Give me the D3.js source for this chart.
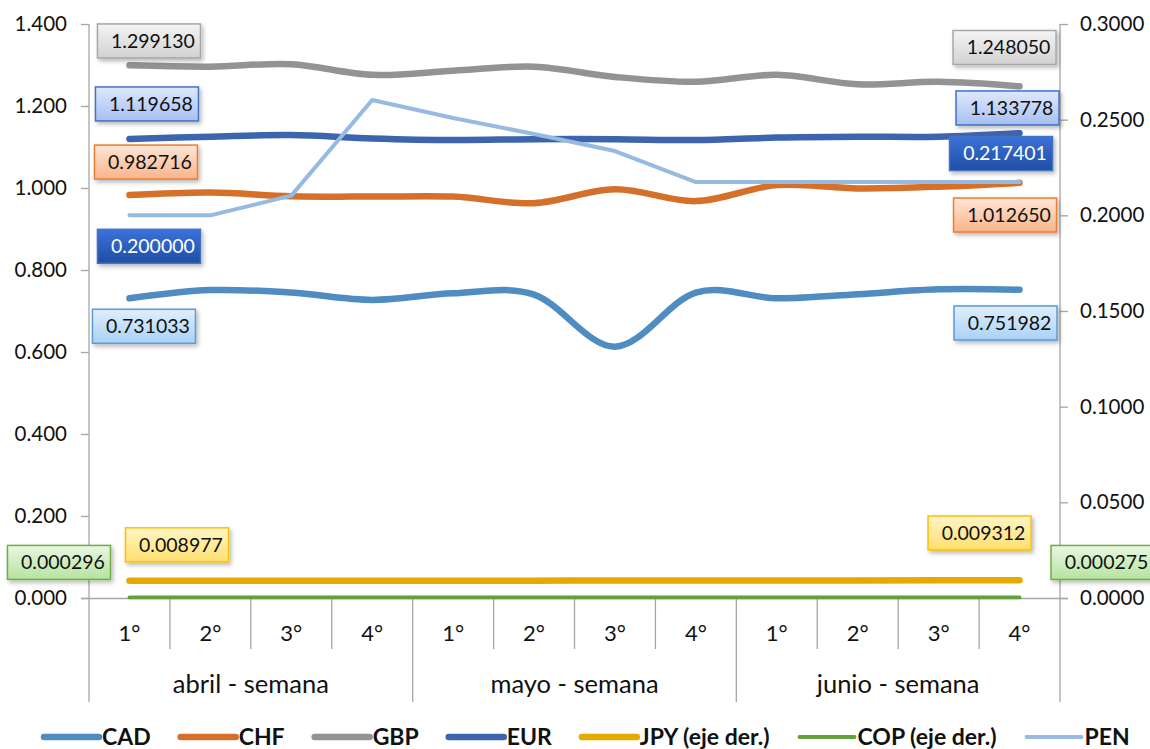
<!DOCTYPE html>
<html><head><meta charset="utf-8">
<script src="https://cdn.jsdelivr.net/npm/d3@7"></script>
<style>
html,body{margin:0;padding:0;background:#fff;}
svg{display:block;font-family:Lato, "Open Sans", sans-serif;}
</style></head>
<body>
<svg id="chart" width="1150" height="749"></svg>
<script>
// ---------- data ----------
const weeks = ["1°","2°","3°","4°","1°","2°","3°","4°","1°","2°","3°","4°"];
const months = ["abril - semana","mayo - semana","junio - semana"];
const leftTicks = [0,0.2,0.4,0.6,0.8,1.0,1.2,1.4];
const rightTicks = [0,0.05,0.1,0.15,0.2,0.25,0.3];

const CAD = [0.731033,0.751,0.745,0.727,0.743,0.740,0.613,0.745,0.731,0.741,0.753,0.751982];
const CHF = [0.982716,0.989,0.980,0.979,0.979,0.963,0.997,0.968,1.007,0.999,1.003,1.012650];
const GBP = [1.299130,1.296,1.302,1.276,1.286,1.296,1.271,1.259,1.276,1.253,1.259,1.248050];
const EUR = [1.119658,1.125,1.129,1.121,1.117,1.119,1.119,1.117,1.123,1.125,1.125,1.133778];
const JPY = [0.008977,0.00899,0.00901,0.00903,0.00906,0.00908,0.00911,0.00913,0.00917,0.00921,0.00926,0.009312];
const COP = [0.000296,0.000293,0.000291,0.000290,0.000288,0.000285,0.000287,0.000283,0.000280,0.000278,0.000277,0.000275];
const PEN = [0.200000,0.200000,0.2103,0.2603,0.2509,0.2425,0.2336,0.217401,0.217401,0.217401,0.217401,0.217401];

// ---------- style ----------
const series = [
  {name:"CAD", values:CAD, axis:"L", color:"#4e8cc2", w:6.5, smooth:true, legend:"CAD"},
  {name:"CHF", values:CHF, axis:"L", color:"#d5702b", w:6.5, smooth:true, legend:"CHF"},
  {name:"GBP", values:GBP, axis:"L", color:"#939393", w:6.5, smooth:true, legend:"GBP"},
  {name:"EUR", values:EUR, axis:"L", color:"#3c65ad", w:6.5, smooth:true, legend:"EUR"},
  {name:"JPY", values:JPY, axis:"R", color:"#e3aa00", w:6.5, smooth:true, legend:"JPY (eje der.)"},
  {name:"COP", values:COP, axis:"R", color:"#63a03e", w:3.8, smooth:true, legend:"COP (eje der.)"},
  {name:"PEN", values:PEN, axis:"R", color:"#97bae0", w:4, smooth:false, legend:"PEN"}
];
// label boxes: [series, index, dx, dy, top, bottom, stroke, textColor]
const labelStyle = [
  ["GBP",0, 19.5,-24.4,"#f4f4f4","#d2d2d2","#a8a8a8","#111"],
  ["EUR",0, 17.5,-35,"#dfe8fc","#a6bff2","#4472c4","#111"],
  ["CHF",0, 16.5,-33,"#fee6d6","#f9b48a","#ed7d31","#111"],
  ["PEN",0, 19.5,31,"#3b72da","#1f4ea3","#4472c4","#fff"],
  ["CAD",0, 14.5,28,"#e0effd","#a9d2f7","#5b9bd5","#111"],
  ["JPY",0, 47.5,-36,"#fff6c8","#ffdf6c","#ffc000","#111"],
  ["COP",0,-70.5,-35,"#eaf7e2","#b5e3a0","#70ad47","#111"],
  ["GBP",11,-15,-38.8,"#f4f4f4","#d2d2d2","#a8a8a8","#111"],
  ["EUR",11,-12,-25.2,"#dfe8fc","#a6bff2","#4472c4","#111"],
  ["PEN",11,-18.5,-28.5,"#3b72da","#1f4ea3","#4472c4","#fff"],
  ["CHF",11,-14.5,32.2,"#fee6d6","#f9b48a","#ed7d31","#111"],
  ["CAD",11,-14,33.3,"#e0effd","#a9d2f7","#5b9bd5","#111"],
  ["JPY",11,-40,-47.2,"#fff6c8","#ffdf6c","#ffc000","#111"],
  ["COP",11,83,-35,"#eaf7e2","#b5e3a0","#70ad47","#111"]
];

// ---------- layout ----------
const svg = d3.select("#chart");
const plotL = 89, plotR = 1060, plotT = 24, plotB = 598;
const axisColor = "#a6a6a6";

const x = d3.scaleBand().domain(d3.range(weeks.length)).range([plotL, plotR]).paddingInner(0).paddingOuter(0);
const cx = i => x(i) + x.bandwidth()/2;
const yL = d3.scaleLinear().domain([0,1.4]).range([plotB, plotT]);
const yR = d3.scaleLinear().domain([0,0.3]).range([plotB, plotT]);

const defs = svg.append("defs");
const shadow = defs.append("filter").attr("id","sh").attr("x","-20%").attr("y","-20%").attr("width","150%").attr("height","160%");
shadow.append("feDropShadow").attr("dx",2).attr("dy",2.5).attr("stdDeviation",2).attr("flood-color","#000").attr("flood-opacity",0.28);

// left axis
const gL = svg.append("g").attr("transform",`translate(${plotL},0)`)
  .call(d3.axisLeft(yL).tickValues(leftTicks).tickFormat(d3.format(".3f")).tickSize(8).tickSizeOuter(0));
gL.select(".domain").remove();
gL.selectAll(".tick line").attr("stroke",axisColor).attr("stroke-width",1.3);
gL.selectAll(".tick text").attr("x",-22).attr("font-size",20.5).attr("fill","#111").attr("font-family","Lato");

// right axis
const gR = svg.append("g").attr("transform",`translate(${plotR},0)`)
  .call(d3.axisRight(yR).tickValues(rightTicks).tickFormat(d3.format(".4f")).tickSize(8).tickSizeOuter(0));
gR.select(".domain").remove();
gR.selectAll(".tick line").attr("stroke",axisColor).attr("stroke-width",1.3);
gR.selectAll(".tick text").attr("x",20).attr("font-size",20.5).attr("fill","#111").attr("font-family","Lato");

// vertical axis lines (extend through category area)
svg.append("line").attr("x1",plotL).attr("x2",plotL).attr("y1",plotT).attr("y2",702).attr("stroke",axisColor).attr("stroke-width",1.3);
svg.append("line").attr("x1",plotR).attr("x2",plotR).attr("y1",plotT).attr("y2",702).attr("stroke",axisColor).attr("stroke-width",1.3);

// category axis
const gX = svg.append("g").attr("transform",`translate(0,${plotB})`)
  .call(d3.axisBottom(x).tickFormat(i=>weeks[i]).tickSize(0).tickSizeOuter(0));
gX.select(".domain").attr("stroke",axisColor).attr("stroke-width",1.3).attr("d",`M${plotL-8},0.5H${plotR+8}`);
gX.selectAll(".tick text").attr("y",36).attr("dy","0.32em").attr("font-size",22).attr("fill","#111").attr("font-family","Lato");

// separators
d3.range(1, weeks.length).forEach(i=>{
  const xx = x(i);
  const isMonth = i % 4 === 0;
  svg.append("line").attr("x1",xx).attr("x2",xx).attr("y1",plotB).attr("y2",isMonth?702:649)
    .attr("stroke",axisColor).attr("stroke-width",1.3);
});
months.forEach((m,k)=>{
  const mx = (x(k*4) + x(k*4+3) + x.bandwidth())/2;
  svg.append("text").attr("x",mx).attr("y",685).attr("dy","0.32em").attr("text-anchor","middle")
    .attr("font-size",25.5).attr("fill","#111").text(m);
});

// lines
const smoothLine = d3.curveCardinal.tension(0);
series.forEach(s=>{
  const ys = s.axis==="L" ? yL : yR;
  const gen = d3.line().x((d,i)=>cx(i)).y(d=>ys(d)).curve(s.smooth ? smoothLine : d3.curveLinear);
  s.gen = gen; s.ys = ys;
});
const order = ["CAD","CHF","GBP","EUR","JPY","COP","PEN"];
order.forEach(n=>{
  const s = series.find(q=>q.name===n);
  svg.append("path").datum(s.values).attr("d",s.gen).attr("fill","none")
    .attr("stroke",s.color).attr("stroke-width",s.w).attr("stroke-linecap","round").attr("stroke-linejoin","round");
});

// data labels
const bw = 103, bh = 34;
labelStyle.forEach((L,k)=>{
  const [name, idx, dx, dy, c1, c2, stroke, tc] = L;
  const s = series.find(q=>q.name===name);
  const px = cx(idx), py = s.ys(s.values[idx]);
  const bx = px + dx - bw/2, by = py + dy - bh/2;
  const gid = "lg"+k;
  const grad = defs.append("linearGradient").attr("id",gid).attr("x1",0).attr("y1",0).attr("x2",0).attr("y2",1);
  grad.append("stop").attr("offset","0%").attr("stop-color",c1);
  grad.append("stop").attr("offset","100%").attr("stop-color",c2);
  svg.append("rect").attr("x",bx).attr("y",by).attr("width",bw).attr("height",bh)
    .attr("fill",`url(#${gid})`).attr("stroke",stroke).attr("stroke-width",1.5).attr("filter","url(#sh)");
  svg.append("text").attr("x",bx+bw/2+4).attr("y",by+bh/2).attr("dy","0.35em").attr("text-anchor","middle")
    .attr("font-size",19.5).attr("fill",tc).text(d3.format(".6f")(s.values[idx]));
});

// legend
let lx = 44;
const ly = 737;
series.forEach(s=>{
  svg.append("line").attr("x1",lx).attr("x2",lx+55).attr("y1",ly).attr("y2",ly)
    .attr("stroke",s.color).attr("stroke-width",s.w).attr("stroke-linecap","round");
  const t = svg.append("text").attr("x",lx+58).attr("y",ly).attr("dy","0.35em")
    .attr("font-size",23).attr("font-weight","bold").attr("fill","#111").text(s.legend);
  lx += 58 + t.node().getComputedTextLength() + 30;
});
</script>
</body></html>
